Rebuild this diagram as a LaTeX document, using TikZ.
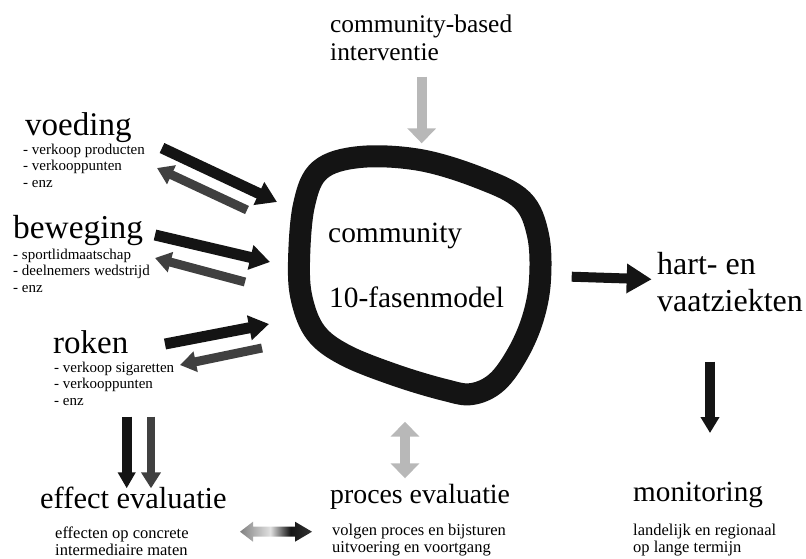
\documentclass[tikz,border=0pt]{standalone}
\usepackage{fontspec}
\setmainfont{Liberation Serif}
\usetikzlibrary{arrows.meta}

\definecolor{arrowblack}{gray}{0.08}
\definecolor{arrowdark}{gray}{0.25}
\definecolor{arrowlight}{gray}{0.72}

\pgfdeclarehorizontalshading{evalshade}{100bp}{color(0bp)=(black!50); color(25bp)=(black!50);
  color(33bp)=(black!35); color(46bp)=(black!12); color(60bp)=(black!92);
  color(75bp)=(black!80); color(100bp)=(black!80)}

\tikzset{
  txt/.style={anchor=base west, inner sep=0pt},
  sublist/.style={anchor=north west, inner sep=0pt, align=left},
  fatblack/.style={arrowblack, line width=11pt, -{Triangle[width=24pt,length=20pt]}},
  fatdark/.style={arrowdark, line width=9pt, -{Triangle[width=20pt,length=16pt]}},
  downblack/.style={arrowblack, line width=10pt, -{Triangle[width=17pt,length=16pt]}},
  downdark/.style={arrowdark, line width=8pt, -{Triangle[width=19pt,length=16pt]}},
  grayarrow/.style={arrowlight, line width=10pt}
}

\begin{document}
\begin{tikzpicture}[x=1pt, y=-1pt]
\useasboundingbox (0,0) rectangle (806,558);

% the community blob
\draw[line width=22pt, arrowblack, line join=round]
  plot[smooth cycle, tension=0.6] coordinates {
  (299,262) (304,205) (320,170) (360,157) (420,160) (480,178)
  (522,200) (538,235) (540,280) (533,318) (518,353) (497,382)
  (472,394) (445,390) (395,375) (345,355) (316,333) (302,300)};

\node[txt, font=\fontsize{29.4}{30}\selectfont] (commTxt) at (328,242) {community};
\node[txt, font=\fontsize{29.4}{30}\selectfont] (fasenTxt) at (329,307) {10-fasenmodel};

%%%%%%%%%%%%%%%%%%%%%%%%%%%%%%%
\node[sublist, font=\fontsize{25.4}{28.3}\selectfont] (interventie) at (330,14.3)
  {community-based\\interventie};

\node[txt, font=\fontsize{33}{36}\selectfont] (voeding) at (25,135) {voeding};
\node[sublist, font=\fontsize{15}{16.3}\selectfont] (voedingList) at (23,143.8)
  {- verkoop producten\\- verkooppunten\\- enz};

\node[txt, font=\fontsize{33.4}{36}\selectfont] (beweging) at (13,238) {beweging};
\node[sublist, font=\fontsize{15}{16.5}\selectfont] (bewegingList) at (13,248.8)
  {- sportlidmaatschap\\- deelnemers wedstrijd\\- enz};

\node[txt, font=\fontsize{33}{36}\selectfont] (roken) at (53,353.3) {roken};
\node[sublist, font=\fontsize{15}{16.5}\selectfont] (rokenList) at (54,361.5)
  {- verkoop sigaretten\\- verkooppunten\\- enz};

\node[sublist, font=\fontsize{32}{37}\selectfont] (hartvaat) at (657,252.4)
  {hart- en\\vaatziekten};

%%%%%%%%%%%%%%%%%%%%%%%%%%%%%%%
\node[txt, font=\fontsize{30.5}{32}\selectfont] (effect) at (40,508) {effect evaluatie};
\node[sublist, font=\fontsize{16.5}{17}\selectfont] (effectList) at (55,526.7)
  {effecten op concrete\\intermediaire maten};

\node[txt, font=\fontsize{27.8}{30}\selectfont] (proces) at (330,503) {proces evaluatie};
\node[sublist, font=\fontsize{16.5}{17}\selectfont] (procesList) at (332,523.7)
  {volgen proces en bijsturen\\uitvoering en voortgang};

\node[txt, font=\fontsize{29.2}{30}\selectfont] (monitoring) at (633,501) {monitoring};
\node[sublist, font=\fontsize{16.5}{17}\selectfont] (monitoringList) at (633,523.7)
  {landelijk en regionaal\\op lange termijn};

%%%%%%%%%%%%%%%%%%%%%%%%%%%%%%%
\coordinate (cbTop) at (421.7,76.7);   \coordinate (cbTip) at (421.7,143.3);
\coordinate (voedA) at (162,148);      \coordinate (voedB) at (277,202);
\coordinate (voedC) at (247,210);      \coordinate (voedD) at (157,168);
\coordinate (bewA) at (155,235);       \coordinate (bewB) at (270,262);
\coordinate (bewC) at (245,282);       \coordinate (bewD) at (155,258);
\coordinate (rokA) at (165,344);       \coordinate (rokB) at (269,324);
\coordinate (rokC) at (262,348);       \coordinate (rokD) at (180,365);
\coordinate (effA) at (126.7,416.7);   \coordinate (effB) at (126.7,488.3);
\coordinate (effC) at (151,416.7);     \coordinate (effD) at (151,488.3);
\coordinate (hartA) at (571.7,276.7);  \coordinate (hartB) at (651.7,279.3);
\coordinate (monA) at (710,361.7);     \coordinate (monB) at (710,433);
\coordinate (procA) at (405,421.7);    \coordinate (procB) at (405,478.3);

\draw[grayarrow, -{Triangle[width=28pt,length=15pt]}] (cbTop) -- (cbTip);

\draw[fatblack] (voedA) -- (voedB);
\draw[fatdark] (voedC) -- (voedD);
\draw[fatblack] (bewA) -- (bewB);
\draw[fatdark] (bewC) -- (bewD);
\draw[fatblack] (rokA) -- (rokB);
\draw[fatdark] (rokC) -- (rokD);

\draw[downblack] (effA) -- (effB);
\draw[downdark] (effC) -- (effD);

\draw[arrowblack, line width=10pt, -{Triangle[width=28pt,length=25pt]}] (hartA) -- (hartB);
\draw[downblack, -{Triangle[width=18pt,length=16pt]}] (monA) -- (monB);

\draw[grayarrow, {Triangle[width=28pt,length=15pt]}-{Triangle[width=28pt,length=15pt]}]
  (procA) -- (procB);

% shaded double arrow between the evaluations
\shade[shading=evalshade]
  (240,531.7) -- (253,521.7) -- (253,526.7) -- (295,526.7) -- (295,521.7) -- (312,531.7)
  -- (295,541.7) -- (295,536.7) -- (253,536.7) -- (253,541.7) -- cycle;

\end{tikzpicture}
\end{document}
